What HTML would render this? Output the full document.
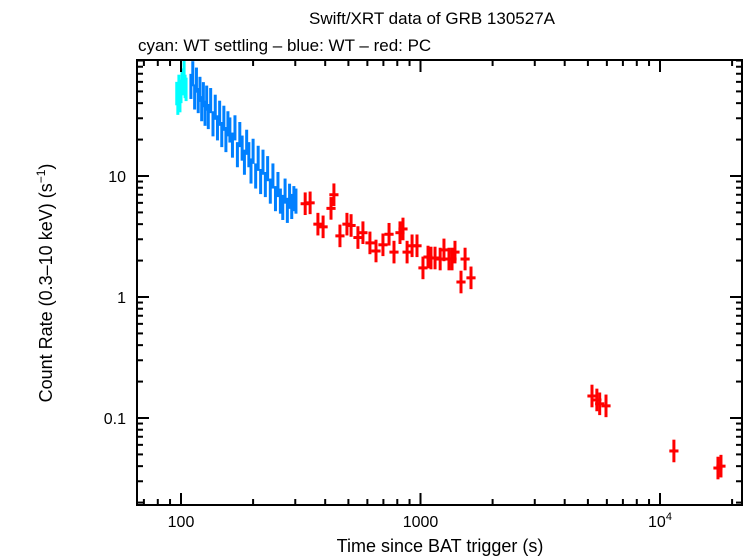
<!DOCTYPE html>
<html><head><meta charset="utf-8"><style>
body{margin:0;background:#fff;}
svg{display:block;font-family:"Liberation Sans",sans-serif;}
</style></head><body>
<svg id="chart" width="746" height="558">
<text x="432" y="24" font-size="17" text-anchor="middle">Swift/XRT data of GRB 130527A</text>
<text x="138" y="51" font-size="17">cyan: WT settling – blue: WT – red: PC</text>
<text x="440" y="552" font-size="18" text-anchor="middle">Time since BAT trigger (s)</text>
<text transform="translate(52,283) rotate(-90)" font-size="18" text-anchor="middle">Count Rate (0.3–10 keV) (s<tspan dy="-7" font-size="12">−1</tspan><tspan dy="7">)</tspan></text>
<g id="marks"></g>
<g id="axes"></g>
<rect x="137" y="60" width="605" height="445" fill="none" stroke="#000" stroke-width="2"/>
</svg>
<script>
const cyanT=[96,97,98,99,100,101,102,103,104,105];
const cyanV=[48,40,55,42,50,62,58,72,55,52];
const blueT=[110,112,114,116,118,120,122,124,126,128,130,133,136,139,142,145,148,151,154,157,160,164,168,172,176,180,184,188,192,196,200,205,210,215,220,225,230,236,242,248,254,260,266,272,278,284,290,296,302];
const blueV=[55,70,45,62,42,52,36,47,33,44,31,42,27,37,25,33,22,30,20,27,24,18,25,15,22,17,13,19,15,11,16,10,14,9,13,8.5,11.5,7.5,10,6.5,8.5,6.2,5.5,7.5,5.2,6.8,5.6,6.5,6.2];
const redT=[330,346,373,392,423,435,461,493,513,548,575,615,652,697,739,775,821,845,879,922,967,1024,1075,1106,1150,1208,1253,1315,1354,1393,1476,1535,1625,5200,5450,5600,5950,11430,17460,17970];
const redV=[5.9,6.0,4.0,3.8,5.4,7.0,3.2,4.0,3.9,3.1,3.4,2.8,2.4,2.7,3.3,2.35,3.4,3.65,2.35,2.65,2.65,1.74,2.14,2.1,2.1,2.06,2.45,2.06,2.06,2.35,1.33,2.06,1.44,0.152,0.141,0.131,0.126,0.0534,0.0386,0.040];
const xTickVals=[100,1000,10000];
const yTickVals=[0.1,1,10];
const yTickLabels=["0.1","1","10"];

const NS="http://www.w3.org/2000/svg";
const X0=137,X1=742,Y0=60,Y1=505;
function xs(t){return 181+239.5*Math.log10(t/100);}
function ys(v){return 297-121*Math.log10(v);}
const marks=document.getElementById('marks');
const axes=document.getElementById('axes');
function line(g,x1,y1,x2,y2,c,w){const l=document.createElementNS(NS,'line');l.setAttribute('x1',x1);l.setAttribute('y1',y1);l.setAttribute('x2',x2);l.setAttribute('y2',y2);l.setAttribute('stroke',c);l.setAttribute('stroke-width',w);g.appendChild(l);return l;}
function series(T,V,color,name,xf,yf){
  for(let i=0;i<T.length;i++){
    const g=document.createElementNS(NS,'g');
    
    
    const x=xs(T[i]),y=ys(V[i]);
    line(g,xs(T[i]/xf),y,xs(T[i]*xf),y,color,3);
    line(g,x,ys(V[i]*yf),x,ys(V[i]/yf),color,3);
    marks.appendChild(g);
  }
}
series(cyanT,cyanV,'#00ffff','cyan-point',1.006,1.25);
series(blueT,blueV,'#0080ff','blue-point',1.008,1.27);
series(redT,redV,'#ff0000','red-point',1.045,1.24);
for(let d=1;d<=4;d++){for(let m=1;m<=9;m++){const t=m*Math.pow(10,d);const x=xs(t);if(x<X0||x>X1)continue;const L=m===1?12:6;line(axes,x,Y1,x,Y1-L,'#000',2);line(axes,x,Y0,x,Y0+L,'#000',2);}}
xTickVals.forEach(function(t,i){const x=xs(t);const tx=document.createElementNS(NS,'text');tx.setAttribute('x',x);tx.setAttribute('y',527);tx.setAttribute('font-size','16');tx.setAttribute('text-anchor','middle');


if(t===10000){tx.innerHTML='10<tspan dy="-7" font-size="11">4</tspan>';}else{tx.textContent=String(t);}axes.appendChild(tx);});
for(let d=-2;d<=1;d++){for(let m=1;m<=9;m++){const v=m*Math.pow(10,d);const y=ys(v);if(y<Y0||y>Y1)continue;const L=m===1?12:6;line(axes,X0,y,X0+L,y,'#000',2);line(axes,X1,y,X1-L,y,'#000',2);}}
yTickVals.forEach(function(v,i){const tx=document.createElementNS(NS,'text');tx.setAttribute('x',126);tx.setAttribute('y',ys(v)+6);tx.setAttribute('font-size','16');tx.setAttribute('text-anchor','end');


tx.textContent=yTickLabels[i];axes.appendChild(tx);});
</script>
</body></html>
